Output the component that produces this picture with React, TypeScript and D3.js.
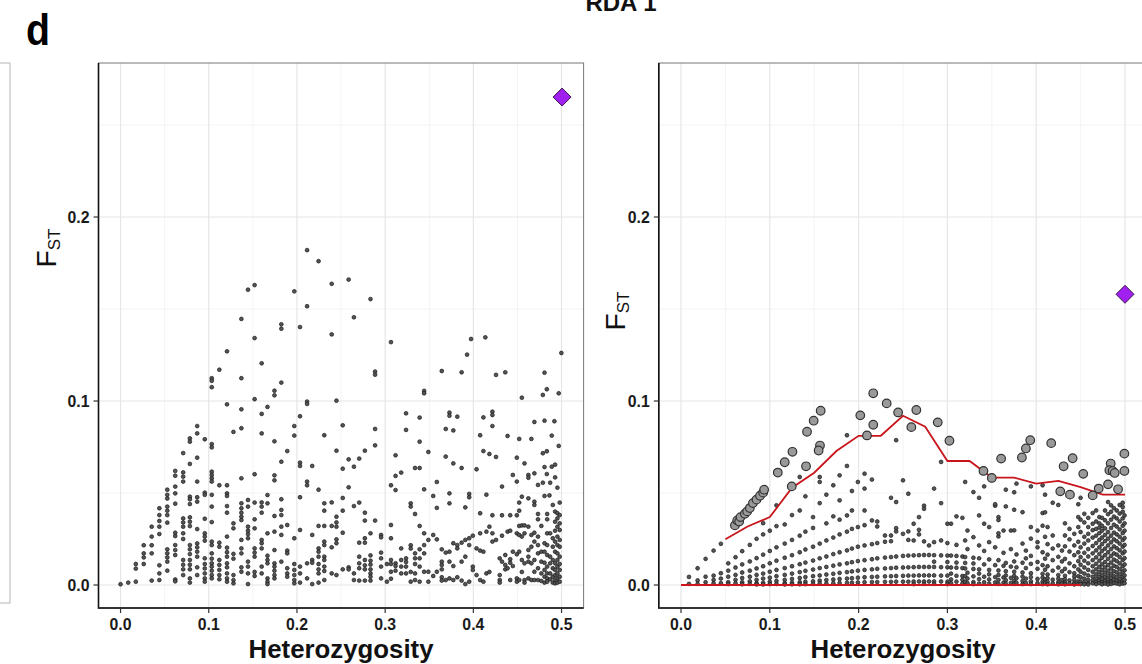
import React from "react";
import * as d3 from "d3";

// ---------- axis ticks ----------
const xTicks = [0, 0.1, 0.2, 0.3, 0.4, 0.5];
const xTickLabels = ["0.0", "0.1", "0.2", "0.3", "0.4", "0.5"];
const xMinor = [0.05, 0.15, 0.25, 0.35, 0.45];
const yTicks = [0, 0.1, 0.2];
const yTickLabels = ["0.0", "0.1", "0.2"];
const yMinor = [0.05, 0.15, 0.25];

// ---------- left panel: [heterozygosity, FST values] ----------
const leftColsLow: [number, number[]][] = [
  [0.0, [0.0004]],
  [0.0087, [0.0013]],
  [0.0173, [0.0114, 0.0089, 0.0018]],
  [0.0263, [0.0216, 0.0172, 0.015, 0.0114]],
  [0.0353, [0.0317, 0.0263, 0.0216, 0.0172, 0.0024]],
  [0.044, [0.0417, 0.038, 0.0348, 0.0317, 0.0277, 0.0107, 0.0063, 0.0027]],
  [0.053, [0.0518, 0.049, 0.047, 0.0426, 0.0404, 0.038, 0.0339, 0.0194, 0.0172, 0.015, 0.0127, 0.0078]],
  [0.062, [0.062, 0.0594, 0.0535, 0.0498, 0.0442, 0.0284, 0.0266, 0.0217, 0.019, 0.0163, 0.003, 0.002]],
  [0.071, [0.0717, 0.0612, 0.0589, 0.0562, 0.0362, 0.034, 0.0317, 0.0281, 0.025, 0.0136, 0.011, 0.0085, 0.0054]],
  [0.0786, [0.0797, 0.0779, 0.0658, 0.048, 0.0466, 0.044, 0.0368, 0.0344, 0.032, 0.0217, 0.0194, 0.0168, 0.0136, 0.011, 0.0085, 0.0036, 0.0013]],
  [0.0869, [0.0864, 0.0824, 0.0692, 0.0562, 0.0477, 0.0453, 0.0304, 0.0226, 0.0205, 0.0181, 0.0154, 0.0096, 0.0054]],
  [0.0955, [0.0792, 0.0502, 0.049, 0.036, 0.0281, 0.0263, 0.0241, 0.0145, 0.0114, 0.009, 0.0063, 0.0036, 0.0018]],
  [0.1034, [0.1124, 0.111, 0.1075, 0.0766, 0.0748, 0.0616, 0.0598, 0.058, 0.0562, 0.049, 0.0426, 0.0342, 0.0236, 0.0217, 0.0172, 0.0143, 0.0118, 0.01, 0.0078, 0.0054, 0.0036]],
  [0.112, [0.117, 0.0542, 0.023, 0.0208, 0.0136, 0.0109, 0.0082, 0.0054, 0.0031]],
  [0.1207, [0.127, 0.0982, 0.0542, 0.0498, 0.0484, 0.0429, 0.0393, 0.0263, 0.0203, 0.0178, 0.0154, 0.0118, 0.0096, 0.0063, 0.0036, 0.0018]],
  [0.128, [0.0832, 0.0335, 0.0308, 0.0169, 0.0143, 0.0054, 0.0027, 0.0009]],
  [0.137, [0.1446, 0.1124, 0.0955, 0.0852, 0.058, 0.0444, 0.0417, 0.0393, 0.0371, 0.0353, 0.0245, 0.0199, 0.0172, 0.0096, 0.0072]],
  [0.1445, [0.1605, 0.0462, 0.0426, 0.0317, 0.0295, 0.0277, 0.0254, 0.0127, 0.01, 0.0063, 0.0005]],
];

const leftColsMid: [number, number[]][] = [
  [0.152, [0.163, 0.1342, 0.101, 0.0602, 0.0448, 0.0357, 0.0308, 0.0199, 0.0176, 0.0154, 0.0071, 0.0049]],
  [0.16, [0.1205, 0.093, 0.0824, 0.0449, 0.0426, 0.0393, 0.0245, 0.0227, 0.0199, 0.01, 0.0063]],
  [0.1666, [0.0968, 0.0489, 0.0444, 0.0281, 0.0159, 0.0136, 0.0118, 0.0036, 0.0018, 0.0005]],
  [0.1745, [0.1056, 0.1031, 0.0781, 0.0596, 0.0569, 0.0375, 0.029, 0.019, 0.0118, 0.01, 0.0078, 0.0054, 0.0036]],
  [0.1823, [0.1417, 0.1393, 0.11, 0.067, 0.0466, 0.0408, 0.038, 0.0317, 0.0272, 0.0127]],
  [0.189, [0.0728, 0.0326, 0.0187, 0.0172, 0.0091, 0.0063, 0.0045]],
  [0.197, [0.1596, 0.0864, 0.0812, 0.0254, 0.0114, 0.0082, 0.0054, 0.0027, 0.0009]],
  [0.2035, [0.1402, 0.0917, 0.0665, 0.0647, 0.0477, 0.0299, 0.01, 0.0063, 0.0013]],
  [0.2115, [0.182, 0.1515, 0.0997, 0.0984, 0.0562, 0.0542, 0.0118, 0.0036]],
  [0.2173, [0.0647, 0.0272, 0.0136, 0.0121, 0.0005]],
  [0.2245, [0.176, 0.0518, 0.0321, 0.0199, 0.0181, 0.0154, 0.0114, 0.0085, 0.0063, 0.0013]],
  [0.231, [0.0814, 0.0444, 0.0404, 0.0321, 0.0236, 0.0217, 0.0154, 0.0136, 0.01, 0.0076, 0.0027]],
  [0.2394, [0.1637, 0.1362, 0.0449, 0.0321, 0.0205, 0.0063]],
  [0.2448, [0.1002, 0.073, 0.0371, 0.034, 0.0317, 0.0248, 0.0227, 0.0054]],
  [0.2519, [0.0868, 0.0632, 0.0473, 0.0404, 0.0284, 0.0085]],
  [0.2586, [0.166, 0.0683, 0.0531, 0.0096, 0.0085]],
  [0.2646, [0.1455, 0.0643, 0.0429, 0.0063, 0.0027]],
  [0.2706, [0.0687, 0.0448, 0.023, 0.0154, 0.0118, 0.0091, 0.0024]],
  [0.277, [0.073, 0.0393, 0.035, 0.0254, 0.023, 0.0136, 0.0107, 0.0085, 0.0024]],
  [0.2834, [0.1554, 0.0281, 0.0161, 0.0132, 0.0111, 0.0085, 0.0063, 0.0045, 0.0024]],
  [0.2886, [0.116, 0.1143, 0.0848, 0.0759, 0.035]],
  [0.2954, [0.0272, 0.0259, 0.0176, 0.0145, 0.01, 0.0036]],
  [0.302, [0.0114, 0.0018]],
  [0.3066, [0.132, 0.0542, 0.0326, 0.0254, 0.0136, 0.0114, 0.0072, 0.0034]],
  [0.3118, [0.0705, 0.0593, 0.0516, 0.0118, 0.0103, 0.0078]],
  [0.3182, [0.0611, 0.0199, 0.0136, 0.01, 0.0063]],
  [0.3237, [0.0933, 0.0843, 0.0145, 0.0125, 0.01, 0.0063]],
  [0.329, [0.0444, 0.0426, 0.0216, 0.0198, 0.0071, 0.0018]],
  [0.3339, [0.0636, 0.0386, 0.0172, 0.0145, 0.0114, 0.0063, 0.0027]],
  [0.3391, [0.091, 0.0779, 0.0636, 0.0321, 0.0194, 0.0145, 0.01, 0.0018]],
  [0.3442, [0.1055, 0.1042, 0.052, 0.0281, 0.0217, 0.0172, 0.0072]],
  [0.349, [0.0723, 0.0245, 0.0072, 0.0018]],
];

const leftColsHigh: [number, number[]][] = [
  [0.3545, [0.0484, 0.0272, 0.0049]],
  [0.3586, [0.056, 0.0419, 0.0248, 0.0072]],
  [0.3642, [0.1163, 0.0194, 0.0127, 0.0109, 0.0085, 0.0042, 0.0024]],
  [0.3687, [0.0848, 0.0698, 0.0176, 0.0027]],
  [0.3729, [0.0937, 0.092, 0.0498, 0.0444, 0.0181, 0.0127, 0.0036]],
  [0.3773, [0.084, 0.0661, 0.0227, 0.0103, 0.0027]],
  [0.3818, [0.0915, 0.0217, 0.0199, 0.0042]],
  [0.3867, [0.1156, 0.0636, 0.023, 0.0127, 0.0024]],
  [0.3909, [0.0422, 0.0245, 0.0154, 0.0005]],
  [0.3929, [0.1252]],
  [0.3953, [0.0495, 0.0477, 0.0254, 0.0217, 0.0018]],
  [0.3974, [0.1337]],
  [0.3994, [0.0268, 0.01, 0.0082]],
  [0.4036, [0.0629, 0.0199, 0.0054]],
  [0.4077, [0.0814, 0.039, 0.0281, 0.0187, 0.0027]],
  [0.4114, [0.0911, 0.0728, 0.0181, 0.0018]],
  [0.4136, [0.1346]],
  [0.4148, [0.0491, 0.029, 0.0063]],
  [0.4182, [0.0712, 0.0317, 0.0071]],
  [0.4216, [0.0942, 0.0924, 0.0864, 0.0379, 0.0281, 0.0236]],
  [0.4257, [0.1142, 0.0696, 0.0245]],
  [0.4299, [0.0145, 0.0054, 0.0027, 0.0013]],
  [0.4325, [0.0535, 0.0379, 0.0268, 0.0127]],
  [0.4362, [0.1156, 0.0163, 0.0109, 0.0085]],
  [0.4388, [0.081, 0.029, 0.0091]],
  [0.4418, [0.0379, 0.0295, 0.014, 0.0121, 0.0027]],
  [0.4448, [0.0598, 0.0181, 0.0103]],
  [0.4493, [0.0692, 0.0562, 0.0379, 0.0281, 0.0167, 0.0036, 0.0018]],
  [0.452, [0.0794, 0.0448, 0.0404, 0.0321, 0.0272, 0.0181, 0.0027]],
  [0.455, [0.1018, 0.048, 0.0324, 0.0263, 0.0136, 0.0071]],
  [0.458, [0.0661, 0.0324, 0.0281, 0.0118, 0.0027, 0.0013]],
  [0.4624, [0.0598, 0.0583, 0.0471, 0.0317, 0.019, 0.0154, 0.0127, 0.0036]],
  [0.4658, [0.0794, 0.0272, 0.0208, 0.0118, 0.0027]],
  [0.4692, [0.0886, 0.0607, 0.0453, 0.0435, 0.0284, 0.0236, 0.0136, 0.0072, 0.0027]],
  [0.4733, [0.0544, 0.0386, 0.0357, 0.0263, 0.0217, 0.0172, 0.0091, 0.0027]],
  [0.4771, [0.0321, 0.0181, 0.0127, 0.0063, 0.0022]],
  [0.4788, [0.1033, 0.0716, 0.0556]],
  [0.4807, [0.1154, 0.0893, 0.0641, 0.0484, 0.0227, 0.0181, 0.0121, 0.0082, 0.0045, 0.0013]],
  [0.4833, [0.1064, 0.0727, 0.0603]],
  [0.4837, [0.0386, 0.0357, 0.0281, 0.0217, 0.0163, 0.01, 0.0063, 0.0036, 0.0018]],
  [0.4863, [0.0487]],
  [0.4871, [0.0556, 0.0281, 0.0154, 0.0118, 0.0063, 0.0031]],
  [0.4889, [0.0812, 0.0643]],
  [0.4901, [0.0435, 0.0254, 0.0208, 0.0136, 0.0091, 0.0045, 0.0013]],
  [0.4919, [0.089]],
  [0.4927, [0.0654, 0.0585, 0.0399, 0.0344, 0.0295, 0.0236, 0.0181, 0.0118, 0.0082, 0.0054, 0.0027, 0.0009]],
  [0.4953, [0.0529, 0.039, 0.0362, 0.0317, 0.0263, 0.0217, 0.0172, 0.0136, 0.01, 0.0063, 0.0036, 0.0013]],
  [0.4968, [0.1042, 0.0756]],
  [0.4979, [0.0448, 0.038, 0.0335, 0.0299, 0.0245, 0.0208, 0.0154, 0.0114, 0.0082, 0.0045, 0.0018]],
  [0.4998, [0.1261]],
];

// ---------- right panel small points ----------
const rightColsLow: [number, number[]][] = [
  [0.009, [0.0044, 0.0006]],
  [0.0187, [0.0091, 0.0025, 0.0006]],
  [0.0277, [0.0142, 0.0045, 0.0015]],
  [0.0367, [0.0187, 0.0051, 0.0028, 0.001]],
  [0.0449, [0.0224, 0.0064, 0.0035, 0.001]],
  [0.0532, [0.0118, 0.0078, 0.0045, 0.0015, 0.0005]],
  [0.0614, [0.0151, 0.0095, 0.0055, 0.0028, 0.001]],
  [0.0689, [0.0184, 0.0112, 0.0068, 0.0038, 0.0015, 0.0004]],
  [0.0775, [0.0218, 0.0128, 0.0078, 0.0045, 0.002, 0.0006]],
  [0.0851, [0.0251, 0.0146, 0.009, 0.0055, 0.0028, 0.001, 0.0003]],
  [0.0925, [0.0336, 0.0275, 0.0165, 0.0102, 0.0062, 0.0035, 0.0012, 0.0003]],
  [0.1, [0.0295, 0.0185, 0.0118, 0.0072, 0.004, 0.0018, 0.0005]],
  [0.1075, [0.0433, 0.032, 0.0205, 0.0132, 0.0082, 0.0048, 0.0022, 0.0006]],
  [0.1168, [0.0329, 0.0225, 0.0148, 0.0092, 0.0055, 0.0028, 0.001, 0.0003]],
  [0.125, [0.038, 0.0245, 0.0162, 0.0102, 0.0062, 0.0033, 0.0012, 0.0004]],
  [0.1337, [0.0587, 0.0405, 0.0268, 0.0178, 0.0113, 0.007, 0.0038, 0.0015, 0.0004]],
  [0.1401, [0.0482, 0.029, 0.0193, 0.0122, 0.0077, 0.0043, 0.0018, 0.0005]],
  [0.1487, [0.0369, 0.031, 0.0208, 0.0133, 0.0084, 0.0048, 0.002, 0.0006]],
  [0.1562, [0.0587, 0.056, 0.0445, 0.0225, 0.0145, 0.0092, 0.0052, 0.0024, 0.0008]],
  [0.1637, [0.0491, 0.0335, 0.0242, 0.0155, 0.0098, 0.0057, 0.0027, 0.0008]],
  [0.1715, [0.0542, 0.0373, 0.0258, 0.0168, 0.0105, 0.0061, 0.003, 0.001]],
  [0.1786, [0.0596, 0.046, 0.0355, 0.0275, 0.0178, 0.0112, 0.0066, 0.0033, 0.0011]],
  [0.1869, [0.0814, 0.0647, 0.0378, 0.029, 0.0188, 0.0118, 0.007, 0.0035, 0.0012]],
  [0.1925, [0.0511, 0.0405, 0.0305, 0.0198, 0.0124, 0.0074, 0.0037, 0.0013]],
  [0.1992, [0.056, 0.0315, 0.0208, 0.013, 0.0078, 0.004, 0.0014]],
];

const rightColsMid: [number, number[]][] = [
  [0.2067, [0.0605, 0.0524, 0.0405, 0.0325, 0.0215, 0.0135, 0.0082, 0.0042, 0.0015]],
  [0.215, [0.0573, 0.0351, 0.0222, 0.014, 0.0085, 0.0044, 0.0016]],
  [0.221, [0.0318, 0.0345, 0.0228, 0.0145, 0.0088, 0.0045, 0.0016]],
  [0.2297, [0.0269, 0.0235, 0.0149, 0.009, 0.0047, 0.0017]],
  [0.2365, [0.0474, 0.0269, 0.0238, 0.0152, 0.0092, 0.0048, 0.0017]],
  [0.2423, [0.0787, 0.0451, 0.0309, 0.0291, 0.0155, 0.0094, 0.0049, 0.0018]],
  [0.25, [0.0569, 0.0278, 0.0158, 0.0095, 0.005, 0.0018]],
  [0.256, [0.0496, 0.0291, 0.0245, 0.016, 0.0096, 0.0051, 0.0018]],
  [0.262, [0.0333, 0.0242, 0.0161, 0.0097, 0.0051, 0.0019, 0.0005]],
  [0.268, [0.0369, 0.03, 0.0275, 0.0162, 0.0098, 0.0052, 0.0019]],
  [0.2737, [0.0431, 0.0414, 0.0237, 0.0163, 0.0098, 0.0052, 0.0019, 0.0006]],
  [0.2793, [0.0215, 0.0163, 0.0098, 0.0052, 0.0019]],
  [0.285, [0.0524, 0.0233, 0.0162, 0.0127, 0.0098, 0.0052, 0.0019, 0.0006]],
  [0.2929, [0.0669, 0.0445, 0.0242, 0.0161, 0.0097, 0.0051, 0.0019]],
  [0.3, [0.0333, 0.0228, 0.016, 0.0125, 0.0096, 0.0051, 0.0018, 0.0005]],
  [0.3041, [0.0333, 0.016, 0.0095, 0.0062, 0.003, 0.001]],
  [0.3102, [0.0373, 0.0218, 0.0158, 0.0122, 0.0094, 0.005, 0.0018]],
  [0.3169, [0.0365, 0.0155, 0.0092, 0.0049, 0.0028, 0.0008]],
  [0.32, [0.056, 0.0242, 0.0152, 0.012, 0.009, 0.0048, 0.0017]],
  [0.3226, [0.0296, 0.0195, 0.0067, 0.0035, 0.001]],
  [0.3293, [0.0505, 0.026, 0.0148, 0.0117, 0.0087, 0.0047, 0.0016, 0.0005]],
  [0.3357, [0.0474, 0.0378, 0.0215, 0.0145, 0.0085, 0.0062, 0.0032, 0.0008]],
  [0.3414, [0.0536, 0.0333, 0.0185, 0.0112, 0.0045, 0.0015]],
  [0.347, [0.0315, 0.0233, 0.0139, 0.0082, 0.0058, 0.003, 0.0007]],
  [0.3538, [0.0431, 0.0439, 0.0205, 0.0108, 0.0043, 0.0014]],
  [0.3575, [0.0369, 0.0353, 0.0264, 0.0281, 0.0135, 0.0079, 0.0055, 0.0028, 0.0006]],
  [0.3632, [0.0296, 0.0175, 0.0104, 0.0041, 0.0013]],
  [0.3658, [0.0518, 0.0427, 0.012, 0.0075, 0.0052, 0.0026, 0.0006]],
  [0.3715, [0.0296, 0.0195, 0.01, 0.0039, 0.0012]],
  [0.3752, [0.0504, 0.0409, 0.0297, 0.0128, 0.0072, 0.0049, 0.0024, 0.0006]],
  [0.3778, [0.0551, 0.0166, 0.0096, 0.0037, 0.0012]],
  [0.3846, [0.0396, 0.0225, 0.0121, 0.0068, 0.0046, 0.0022, 0.0005]],
  [0.3884, [0.0187, 0.0145, 0.0092, 0.0035, 0.0011]],
  [0.394, [0.0536, 0.0315, 0.0252, 0.0158, 0.0115, 0.0064, 0.0043, 0.002, 0.0005]],
];

const rightColsHigh: [number, number[]][] = [
  [0.4015, [0.0296, 0.0233, 0.0205, 0.0125, 0.0088, 0.0033, 0.001]],
  [0.4072, [0.0542, 0.0391, 0.0322, 0.0178, 0.0108, 0.0061, 0.004, 0.0018, 0.0005]],
  [0.41, [0.0491, 0.0395, 0.0262, 0.0143, 0.0083, 0.0031, 0.001]],
  [0.4128, [0.0315, 0.0222, 0.0165, 0.0102, 0.0057, 0.0037, 0.0017, 0.0004]],
  [0.4186, [0.0447, 0.0269, 0.0198, 0.0135, 0.0078, 0.0029, 0.0009]],
  [0.4249, [0.0435, 0.0215, 0.0153, 0.0095, 0.0054, 0.0034, 0.0015, 0.0004]],
  [0.429, [0.0187, 0.0128, 0.0074, 0.0027, 0.0008]],
  [0.4324, [0.0335, 0.0269, 0.021, 0.0142, 0.0088, 0.005, 0.0031, 0.0014, 0.0004]],
  [0.4375, [0.0305, 0.0248, 0.0182, 0.0118, 0.007, 0.0025, 0.0008]],
  [0.4429, [0.0278, 0.0215, 0.0162, 0.0102, 0.0064, 0.0046, 0.0028, 0.0012, 0.0003]],
  [0.4474, [0.0439, 0.0369, 0.0315, 0.0235, 0.0178, 0.013, 0.0085, 0.0048, 0.002, 0.0006]],
  [0.45, [0.0474, 0.0355, 0.0288, 0.0205, 0.0152, 0.011, 0.0072, 0.0042, 0.0018, 0.0005]],
  [0.4542, [0.0387, 0.034, 0.0262, 0.0225, 0.0175, 0.0132, 0.0095, 0.0062, 0.0035, 0.0015, 0.0004]],
  [0.4586, [0.0365, 0.0315, 0.0278, 0.0242, 0.0195, 0.0155, 0.0118, 0.0082, 0.0052, 0.0028, 0.0011, 0.0003]],
  [0.4636, [0.0391, 0.0333, 0.0298, 0.0258, 0.0212, 0.0172, 0.0135, 0.0102, 0.0072, 0.0045, 0.0024, 0.0009]],
  [0.4675, [0.0405, 0.0345, 0.0305, 0.0268, 0.0228, 0.0188, 0.015, 0.0115, 0.0085, 0.0058, 0.0035, 0.0016, 0.0005]],
  [0.4711, [0.0369, 0.0335, 0.0312, 0.0282, 0.0245, 0.0205, 0.0168, 0.0132, 0.0098, 0.007, 0.0045, 0.0025, 0.001]],
  [0.4741, [0.0365, 0.0322, 0.0295, 0.0258, 0.0222, 0.0185, 0.0148, 0.0112, 0.0082, 0.0055, 0.0033, 0.0015, 0.0004]],
  [0.4775, [0.0405, 0.0352, 0.0308, 0.0272, 0.0238, 0.0198, 0.0162, 0.0125, 0.0095, 0.0068, 0.0042, 0.0022, 0.0008]],
  [0.4809, [0.0451, 0.0385, 0.0335, 0.0288, 0.0252, 0.0215, 0.0178, 0.0142, 0.0108, 0.0078, 0.0052, 0.003, 0.0013, 0.0003]],
  [0.4843, [0.0433, 0.0398, 0.0355, 0.031, 0.0268, 0.0232, 0.0195, 0.0158, 0.0122, 0.009, 0.0062, 0.0038, 0.0018, 0.0006]],
  [0.4875, [0.0418, 0.0372, 0.0328, 0.0285, 0.0248, 0.021, 0.0172, 0.0138, 0.0105, 0.0075, 0.0048, 0.0026, 0.001]],
  [0.4907, [0.0405, 0.0362, 0.0318, 0.0275, 0.0238, 0.02, 0.0165, 0.013, 0.0098, 0.0068, 0.0043, 0.0022, 0.0008]],
  [0.494, [0.0435, 0.0388, 0.0345, 0.0302, 0.0262, 0.0225, 0.0188, 0.0152, 0.0118, 0.0086, 0.0058, 0.0034, 0.0015, 0.0004]],
  [0.4974, [0.0447, 0.0424, 0.0398, 0.0362, 0.0322, 0.0282, 0.0245, 0.0208, 0.0172, 0.0136, 0.0102, 0.0072, 0.0046, 0.0024, 0.0008]],
  [0.4995, [0.0378, 0.0335, 0.0295, 0.0255, 0.0218, 0.0182, 0.0146, 0.0112, 0.008, 0.0052, 0.0028, 0.001]],
];

// ---------- right panel outliers (above the upper quantile) ----------
const rightOutliers: [number, number][] = [
  [0.0607, 0.0324], [0.0633, 0.0351], [0.0655, 0.0345], [0.067, 0.0369], [0.0719, 0.0387],
  [0.0745, 0.04], [0.0775, 0.0418], [0.081, 0.0445], [0.085, 0.0464], [0.089, 0.0485],
  [0.0925, 0.0502], [0.0936, 0.0518], [0.109, 0.0611], [0.1168, 0.0667], [0.1255, 0.0724],
  [0.1247, 0.0536], [0.1408, 0.0645], [0.1419, 0.0833], [0.1494, 0.0893], [0.1573, 0.0947],
  [0.1565, 0.0758], [0.155, 0.0731], [0.2019, 0.0922], [0.2094, 0.0813], [0.2165, 0.1042],
  [0.2165, 0.0871], [0.2316, 0.0987], [0.2445, 0.0938], [0.265, 0.0951], [0.2594, 0.0858],
  [0.2891, 0.0884], [0.3023, 0.0784], [0.3406, 0.062], [0.35, 0.0582], [0.3605, 0.0687],
  [0.3839, 0.0693], [0.3884, 0.0742], [0.3933, 0.0787], [0.4169, 0.0771], [0.4309, 0.0645],
  [0.441, 0.0689], [0.453, 0.0604], [0.4271, 0.0509], [0.438, 0.0491], [0.4636, 0.0487],
  [0.4704, 0.0524], [0.4809, 0.0547], [0.4922, 0.052], [0.4839, 0.066], [0.4824, 0.0624],
  [0.4861, 0.062], [0.4884, 0.0609], [0.4993, 0.0714], [0.4993, 0.062],
];

// ---------- quantile lines (right panel) ----------
const upperHet = [0.05, 0.075, 0.1, 0.125, 0.15, 0.175, 0.2, 0.225, 0.25, 0.275, 0.3, 0.325, 0.35, 0.375, 0.4, 0.425, 0.45, 0.475, 0.5];
const upperFst = [0.0249, 0.0318, 0.0369, 0.0529, 0.061, 0.0728, 0.0811, 0.0811, 0.092, 0.086, 0.0674, 0.0674, 0.0584, 0.0584, 0.0551, 0.0566, 0.0532, 0.0491, 0.0491];
const lowerHet = [0, 0.45];
const lowerFst = [0, 0];

// ---------- highlighted SNP ----------
const leftHighlight: [number, number] = [0.5006, 0.2652];
const rightHighlight: [number, number] = [0.5, 0.158];

const FONT = "'Liberation Sans', Arial, Helvetica, sans-serif";
const TOP = 63;
const BOTTOM = 608;

const yScale = d3.scaleLinear().domain([-0.0125, 0.2837]).range([BOTTOM, TOP]);
const xLeft = d3.scaleLinear().domain([-0.025, 0.525]).range([98.5, 583.6]);
const xRight = d3.scaleLinear().domain([-0.025, 0.525]).range([658.8, 1147.2]);

function flatten(cols: [number, number[]][]): [number, number][] {
  const out: [number, number][] = [];
  cols.forEach(([h, fs]) => fs.forEach((f) => out.push([h, f])));
  return out;
}

function Diamond({ x, y }: { x: number; y: number }) {
  const r = 9;
  return (
    <path
      d={`M${x},${y - r}L${x + r},${y}L${x},${y + r}L${x - r},${y}Z`}
      fill="#a020f0"
      stroke="#3a1a4a"
      strokeWidth={1}
    />
  );
}

function Panel({
  xs,
  id,
  yTitleX,
  yTitleY,
  children,
}: {
  xs: d3.ScaleLinear<number, number>;
  id: string;
  yTitleX: number;
  yTitleY: number;
  children: React.ReactNode;
}) {
  const [x0, x1] = xs.range();
  const cx = (x0 + x1) / 2;
  return (
    <g>
      <defs>
        <clipPath id={id}>
          <rect x={x0} y={TOP} width={x1 - x0} height={BOTTOM - TOP} />
        </clipPath>
      </defs>
      <rect x={x0} y={TOP} width={x1 - x0} height={BOTTOM - TOP} fill="#fff" />
      {xMinor.map((t) => (
        <line key={"xm" + t} x1={xs(t)} x2={xs(t)} y1={TOP} y2={BOTTOM} stroke="#f1f1f1" strokeWidth={0.8} />
      ))}
      {yMinor.map((t) => (
        <line key={"ym" + t} x1={x0} x2={x1} y1={yScale(t)} y2={yScale(t)} stroke="#f1f1f1" strokeWidth={0.8} />
      ))}
      {xTicks.map((t) => (
        <line key={"xg" + t} x1={xs(t)} x2={xs(t)} y1={TOP} y2={BOTTOM} stroke="#e6e6e6" strokeWidth={1.2} />
      ))}
      {yTicks.map((t) => (
        <line key={"yg" + t} x1={x0} x2={x1} y1={yScale(t)} y2={yScale(t)} stroke="#e6e6e6" strokeWidth={1.2} />
      ))}
      <g clipPath={`url(#${id})`}>{children}</g>
      <rect x={x0} y={TOP} width={x1 - x0} height={BOTTOM - TOP} fill="none" stroke="#777" strokeWidth={1} />
      <line x1={x0} x2={x0} y1={TOP} y2={BOTTOM + 0.8} stroke="#111" strokeWidth={1.6} />
      <line x1={x0} x2={x1} y1={BOTTOM} y2={BOTTOM} stroke="#333" strokeWidth={1.8} />
      {yTicks.map((t, i) => (
        <g key={"yt" + t}>
          <line x1={x0 - 5} x2={x0} y1={yScale(t)} y2={yScale(t)} stroke="#333" strokeWidth={1.2} />
          <text
            x={x0 - 9}
            y={yScale(t) + 6}
            textAnchor="end"
            fontFamily={FONT}
            fontWeight="bold"
            fontSize={16}
            fill="#1a1a1a"
            textLength={22}
            lengthAdjust="spacingAndGlyphs"
          >
            {yTickLabels[i]}
          </text>
        </g>
      ))}
      {xTicks.map((t, i) => (
        <g key={"xt" + t}>
          <line x1={xs(t)} x2={xs(t)} y1={BOTTOM} y2={BOTTOM + 5} stroke="#333" strokeWidth={1.2} />
          <text
            x={xs(t) - 11}
            y={630}
            fontFamily={FONT}
            fontWeight="bold"
            fontSize={16}
            fill="#1a1a1a"
            textLength={22}
            lengthAdjust="spacingAndGlyphs"
          >
            {xTickLabels[i]}
          </text>
        </g>
      ))}
      <text
        x={cx - 92.5}
        y={658}
        fontFamily={FONT}
        fontWeight="bold"
        fontSize={25}
        fill="#111"
        textLength={185}
        lengthAdjust="spacingAndGlyphs"
      >
        Heterozygosity
      </text>
      <text
        transform={`translate(${yTitleX},${yTitleY}) rotate(-90)`}
        textAnchor="middle"
        fontFamily={FONT}
        fill="#111"
      >
        <tspan fontSize={28}>F</tspan>
        <tspan fontSize={17} dy={4}>ST</tspan>
      </text>
    </g>
  );
}

export default function App() {
  const leftPts = [...flatten(leftColsLow), ...flatten(leftColsMid), ...flatten(leftColsHigh)];
  const rightPts = [...flatten(rightColsLow), ...flatten(rightColsMid), ...flatten(rightColsHigh)];
  const line = (xs: d3.ScaleLinear<number, number>) =>
    d3
      .line<[number, number]>()
      .x((d) => xs(d[0]))
      .y((d) => yScale(d[1]));
  const upper: [number, number][] = upperHet.map((h, i) => [h, upperFst[i]]);
  const lower: [number, number][] = lowerHet.map((h, i) => [h, lowerFst[i]]);

  return (
    <svg
      width={1142}
      height={664}
      style={{ position: "absolute", left: 0, top: 0, background: "#fff" }}
    >
      <rect x={0} y={0} width={1142} height={664} fill="#fff" />
      {/* partial panel at far left */}
      <rect x={-20} y={TOP} width={30} height={540} fill="#fff" stroke="#b5b5b5" strokeWidth={1} />

      <text x={26} y={45} fontFamily={FONT} fontWeight="bold" fontSize={44} fill="#000" textLength={24} lengthAdjust="spacingAndGlyphs">
        d
      </text>
      <text x={621} y={11} textAnchor="middle" fontFamily={FONT} fontWeight="bold" fontSize={24} fill="#111">
        RDA 1
      </text>

      <Panel xs={xLeft} id="clipL" yTitleX={56} yTitleY={248}>
        {leftPts.map((d, i) => (
          <circle key={i} cx={xLeft(d[0])} cy={yScale(d[1])} r={1.9} fill="#555" stroke="#1a1a1a" strokeWidth={0.7} />
        ))}
        <Diamond x={xLeft(leftHighlight[0])} y={yScale(leftHighlight[1])} />
      </Panel>

      <Panel xs={xRight} id="clipR" yTitleX={625} yTitleY={311}>
        {rightPts.map((d, i) => (
          <circle key={i} cx={xRight(d[0])} cy={yScale(d[1])} r={1.9} fill="#555" stroke="#1a1a1a" strokeWidth={0.7} />
        ))}
        <path d={line(xRight)(lower) || ""} fill="none" stroke="#d0161c" strokeWidth={2} />
        <path d={line(xRight)(upper) || ""} fill="none" stroke="#c8161c" strokeWidth={1.8} />
        {rightOutliers.map((d, i) => (
          <circle key={"o" + i} cx={xRight(d[0])} cy={yScale(d[1])} r={4.3} fill="#9a9a9a" stroke="#333" strokeWidth={1.2} />
        ))}
        <Diamond x={xRight(rightHighlight[0])} y={yScale(rightHighlight[1])} />
      </Panel>
    </svg>
  );
}
